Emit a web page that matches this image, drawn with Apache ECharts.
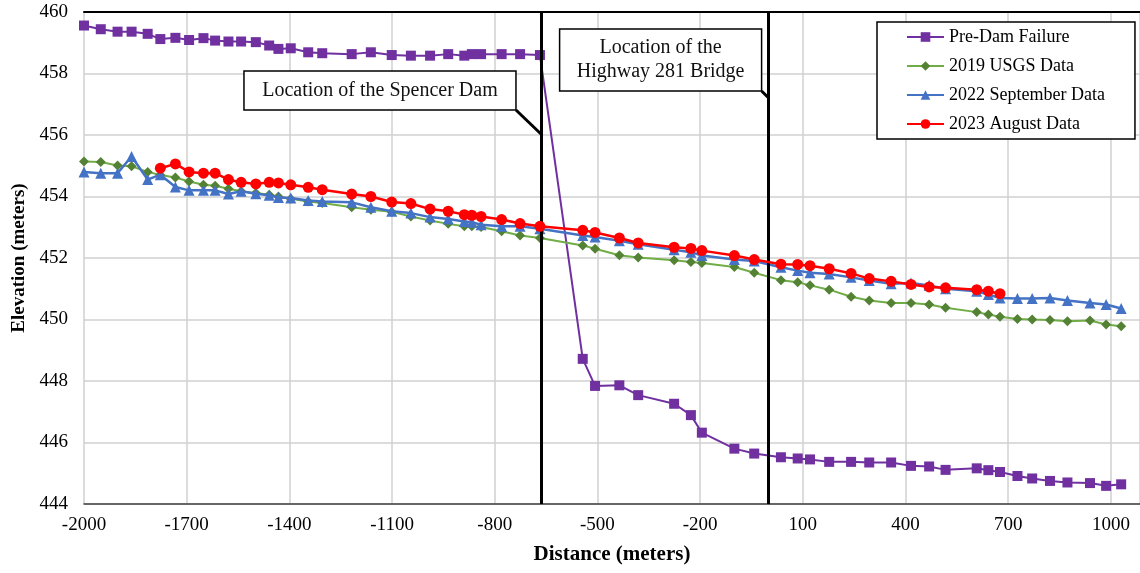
<!DOCTYPE html>
<html>
<head>
<meta charset="utf-8">
<script src="https://cdn.jsdelivr.net/npm/echarts@6/dist/echarts.min.js"></script>
<style>
html,body{margin:0;padding:0;background:#fff;}
#chart{width:1140px;height:573px;}
</style>
</head>
<body>
<div id="chart"></div>
<script>
// Survey stations (distance along river, meters)
const distance = [-2000,-1951,-1902,-1861,-1814,-1777,-1733,-1693,-1651,-1617,-1578,-1541,-1498,-1459,-1432,-1396,-1345,-1304,-1218,-1162,-1101,-1045,-989,-936,-889,-867,-840,-780,-726,-668,
  -543,-507,-436,-381,-276,-227,-195,-100,-42,36,85,121,177,241,294,358,416,469,517,608,642,676,727,770,822,873,939,986,1030];

const preDamFailure = [459.56,459.44,459.36,459.36,459.29,459.12,459.16,459.09,459.15,459.07,459.04,459.04,459.02,458.91,458.80,458.82,458.69,458.66,458.63,458.69,458.60,458.58,458.58,458.63,458.58,458.63,458.63,458.63,458.63,458.60,
  448.72,447.84,447.86,447.54,447.26,446.89,446.32,445.80,445.64,445.52,445.48,445.45,445.37,445.37,445.35,445.35,445.24,445.22,445.11,445.16,445.10,445.04,444.91,444.83,444.75,444.70,444.68,444.59,444.64];

const usgs2019 = [455.14,455.12,455.01,454.98,454.80,454.70,454.62,454.49,454.38,454.35,454.25,454.17,454.11,454.06,454.00,453.93,453.84,453.79,453.65,453.57,453.50,453.35,453.22,453.11,453.03,453.03,453.01,452.87,452.73,452.65,
  452.41,452.30,452.09,452.02,451.93,451.87,451.84,451.71,451.52,451.28,451.21,451.11,450.97,450.74,450.62,450.54,450.54,450.49,450.38,450.24,450.16,450.09,450.02,450.00,449.98,449.94,449.97,449.84,449.78];

const sept2022 = [454.80,454.76,454.76,455.30,454.55,454.71,454.31,454.20,454.20,454.20,454.08,454.17,454.09,454.04,453.97,453.95,453.87,453.84,453.81,453.65,453.52,453.46,453.33,453.27,453.19,453.16,453.08,453.03,453.03,452.95,
  452.73,452.68,452.56,452.45,452.27,452.19,452.08,451.95,451.90,451.70,451.59,451.52,451.48,451.37,451.27,451.16,451.19,451.11,451.00,450.92,450.81,450.70,450.68,450.68,450.70,450.62,450.54,450.49,450.36];

const aug2023 = [null,null,null,null,null,454.92,455.06,454.80,454.76,454.76,454.55,454.46,454.41,454.46,454.44,454.38,454.30,454.22,454.08,454.00,453.82,453.77,453.59,453.52,453.41,453.39,453.35,453.25,453.12,453.03,
  452.90,452.83,452.65,452.49,452.35,452.31,452.24,452.08,451.95,451.80,451.79,451.75,451.65,451.50,451.33,451.24,451.14,451.06,451.03,450.97,450.92,450.84,null,null,null,null,null,null,null];

const seriesNames = ['Pre-Dam Failure','2019 USGS Data','2022 September Data','2023 August Data'];
const xMin = -2000, xMax = 1085, xStep = 300;
const yMin = 444, yMax = 460, yStep = 2;
const damLocation = -665;
const bridgeLocation = 0;
const damLabel = 'Location of the Spencer Dam';
const bridgeLabel = 'Location of the\nHighway 281 Bridge';

const FONT = 'Liberation Serif';
function pts(arr){ return distance.map((d,i)=>[d,arr[i]]).filter(p=>p[1]!=null); }

const chart = echarts.init(document.getElementById('chart'));
chart.setOption({
  animation:false,
  backgroundColor:'#fff',
  grid:{left:84,top:12,right:0,bottom:69},
  legend:{
    orient:'vertical',left:877,top:22,
    backgroundColor:'#fff',borderColor:'#000',borderWidth:1.5,
    padding:[5,30,5,29],itemWidth:37,itemHeight:12,itemGap:9,
    textStyle:{fontFamily:FONT,fontSize:18,color:'#000',lineHeight:20},
    data:seriesNames
  },
  xAxis:[{
    type:'value',min:xMin,max:xMax,interval:xStep,
    name:'Distance (meters)',nameLocation:'middle',nameGap:40,
    nameTextStyle:{fontFamily:FONT,fontSize:21,fontWeight:'bold',color:'#000'},
    axisLine:{show:true,onZero:false,lineStyle:{color:'#404040',width:1.5}},
    axisTick:{show:false},
    axisLabel:{fontFamily:FONT,fontSize:19,color:'#000',margin:12,showMaxLabel:false,formatter:v=>String(v)},
    splitLine:{show:true,lineStyle:{color:'#d0d0d0',width:1.5}}
  },{
    type:'value',min:xMin,max:xMax,interval:xStep,position:'top',
    axisLine:{show:true,onZero:false,lineStyle:{color:'#000',width:2}},
    axisTick:{show:false},axisLabel:{show:false},splitLine:{show:false}
  }],
  yAxis:{
    type:'value',min:yMin,max:yMax,interval:yStep,
    name:'Elevation (meters)',nameLocation:'middle',nameGap:52,nameRotate:90,
    nameTextStyle:{fontFamily:FONT,fontSize:19,fontWeight:'bold',color:'#000'},
    axisLine:{show:true,lineStyle:{color:'#808080',width:1.5}},
    axisTick:{show:false},
    axisLabel:{fontFamily:FONT,fontSize:19,color:'#000',margin:16},
    splitLine:{show:true,lineStyle:{color:'#d0d0d0',width:1.5}}
  },
  series:[
    {name:seriesNames[0],type:'line',data:pts(preDamFailure),symbol:'rect',symbolSize:10,showAllSymbol:true,
     itemStyle:{color:'#7030A0'},lineStyle:{color:'#7030A0',width:2},z:2,
     markLine:{silent:true,symbol:['none','none'],label:{show:false},
       lineStyle:{color:'#000',width:3,type:'solid'},
       data:[{xAxis:damLocation},{xAxis:bridgeLocation}]}},
    {name:seriesNames[1],type:'line',data:pts(usgs2019),symbol:'diamond',symbolSize:10,showAllSymbol:true,
     itemStyle:{color:'#548235'},lineStyle:{color:'#70AD47',width:2},z:3},
    {name:seriesNames[2],type:'line',data:pts(sept2022),symbol:'triangle',symbolSize:11,showAllSymbol:true,
     itemStyle:{color:'#4472C4'},lineStyle:{color:'#4472C4',width:2.5},z:4},
    {name:seriesNames[3],type:'line',data:pts(aug2023),symbol:'circle',symbolSize:11,showAllSymbol:true,
     itemStyle:{color:'#FF0000'},lineStyle:{color:'#FF0000',width:2.5},z:5}
  ]
});

// Annotation callouts attached to the marker lines
const damPx = chart.convertToPixel({xAxisIndex:0}, damLocation);
const bridgePx = chart.convertToPixel({xAxisIndex:0}, bridgeLocation);
const bx1 = damPx - 297, bx2 = damPx - 25, by1 = 71, by2 = 110;
const cx1 = bridgePx - 209, cx2 = bridgePx - 7, cy1 = 29, cy2 = 91;
chart.setOption({
  graphic:[
    {type:'polyline',z:100,shape:{points:[[bx2,by2],[damPx,134]]},style:{stroke:'#000',lineWidth:3,fill:null}},
    {type:'rect',z:101,shape:{x:bx1,y:by1,width:bx2-bx1,height:by2-by1},style:{fill:'#fff',stroke:'#000',lineWidth:1.5}},
    {type:'text',z:102,x:(bx1+bx2)/2,y:(by1+by2)/2,style:{text:damLabel,fontFamily:FONT,fontSize:20,fill:'#111',align:'center',verticalAlign:'middle'}},
    {type:'polyline',z:100,shape:{points:[[cx2,cy2],[bridgePx,98]]},style:{stroke:'#000',lineWidth:3,fill:null}},
    {type:'rect',z:101,shape:{x:cx1,y:cy1,width:cx2-cx1,height:cy2-cy1},style:{fill:'#fff',stroke:'#000',lineWidth:1.5}},
    {type:'text',z:102,x:(cx1+cx2)/2,y:(cy1+cy2)/2,style:{text:bridgeLabel,fontFamily:FONT,fontSize:20,lineHeight:24,fill:'#111',align:'center',verticalAlign:'middle'}}
  ]
});
</script>
</body>
</html>
